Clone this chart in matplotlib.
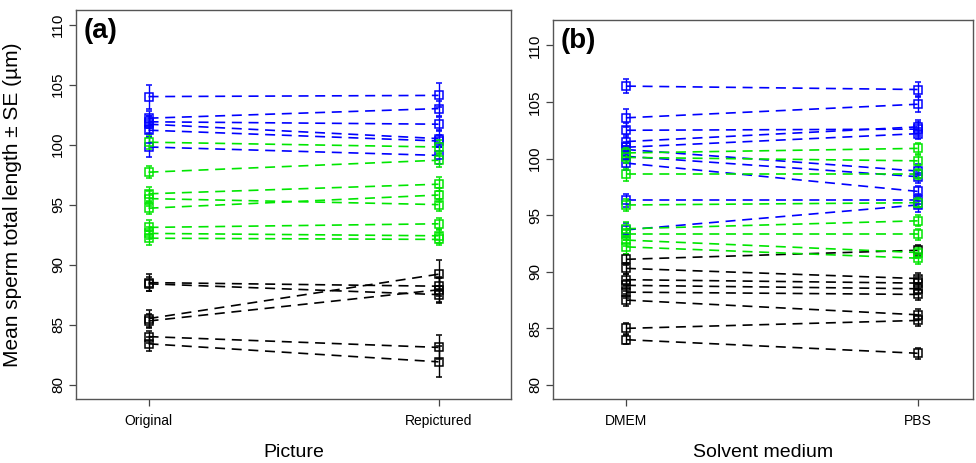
import matplotlib
matplotlib.use("Agg")
import matplotlib.pyplot as plt

plt.rcParams['font.family'] = ['Liberation Sans', 'DejaVu Sans']

# panel (a): Original vs Repictured
a_ticks = ["Original", "Repictured"]
a_blue_orig = [104.0, 102.2, 101.9, 101.7, 101.2, 99.8]
a_blue_rep = [104.1, 103.0, 101.7, 100.5, 100.3, 99.1]
a_blue_se1 = [1.0, 0.6, 0.5, 0.7, 0.6, 0.8]
a_blue_se2 = [1.0, 0.6, 0.6, 0.7, 0.5, 0.7]
a_green_orig = [100.2, 97.7, 95.9, 95.5, 94.7, 93.1, 92.6, 92.2]
a_green_rep = [99.8, 98.7, 96.7, 95.0, 95.8, 93.4, 92.4, 92.1]
a_green_se1 = [0.6, 0.5, 0.6, 0.6, 0.5, 0.6, 0.5, 0.6]
a_green_se2 = [0.6, 0.6, 0.6, 0.5, 0.6, 0.5, 0.6, 0.5]
a_black_orig = [88.5, 88.4, 85.5, 85.3, 84.0, 83.4]
a_black_rep = [88.2, 87.5, 89.2, 87.9, 83.1, 81.9]
a_black_se1 = [0.7, 0.6, 0.7, 0.6, 0.5, 0.6]
a_black_se2 = [0.8, 0.7, 1.2, 1.0, 1.0, 1.3]

# panel (b): DMEM vs PBS
b_ticks = ["DMEM", "PBS"]
b_blue_orig = [106.4, 103.6, 102.5, 101.5, 101.0, 100.8, 100.2, 99.6, 96.3, 93.7]
b_blue_rep = [106.1, 104.8, 102.6, 102.8, 102.2, 98.9, 98.4, 97.1, 96.3, 95.9]
b_blue_se1 = [0.6, 0.8, 0.6, 0.6, 0.5, 0.6, 0.6, 0.6, 0.6, 0.6]
b_blue_se2 = [0.7, 0.7, 0.6, 0.6, 0.5, 0.6, 0.6, 0.5, 0.6, 0.6]
b_green_orig = [100.5, 100.1, 98.6, 95.9, 93.8, 93.3, 92.8, 92.2]
b_green_rep = [100.9, 99.8, 98.6, 96.1, 94.5, 93.3, 91.7, 91.2]
b_green_se1 = [0.5, 0.5, 0.6, 0.5, 0.6, 0.5, 0.5, 0.6]
b_green_se2 = [0.5, 0.5, 0.5, 0.5, 0.5, 0.5, 0.5, 0.5]
b_black_orig = [91.1, 90.3, 89.3, 88.8, 88.2, 87.5, 85.0, 84.0]
b_black_rep = [91.9, 89.4, 89.0, 88.5, 88.0, 86.2, 85.7, 82.8]
b_black_se1 = [0.5, 0.5, 0.5, 0.5, 0.5, 0.5, 0.5, 0.4]
b_black_se2 = [0.5, 0.5, 0.5, 0.5, 0.5, 0.5, 0.5, 0.5]

BLUE = '#0000ff'
GREEN = '#00e600'
BLACK = '#000000'


def draw_group(ax, orig, rep, se1, se2, color):
    for o, r, s1, s2 in zip(orig, rep, se1, se2):
        ax.plot([1, 2], [o, r], color=color, lw=1.2, linestyle=(0, (6, 4)), zorder=2)
        ax.errorbar([1, 2], [o, r], yerr=[s1, s2], fmt='s', mfc='none', mec=color,
                    ms=6, mew=1.1, ecolor=color, elinewidth=1.0, capsize=2.5,
                    capthick=1.0, zorder=3)


def style_axes(ax, ticks, xlabel, tag, ylim):
    ax.set_xlim(0.75, 2.25 if tag == '(a)' else 2.19)
    ax.set_ylim(*ylim)
    ax.set_xticks([1, 2])
    ax.set_xticklabels(ticks, fontsize=10)
    ax.set_yticks([80, 85, 90, 95, 100, 105, 110])
    ax.set_yticklabels([str(v) for v in [80, 85, 90, 95, 100, 105, 110]],
                       fontsize=11, rotation=90, va='center')
    ax.tick_params(axis='both', length=5, width=0.9, color='#444444')
    ax.tick_params(axis='x', pad=6)
    ax.tick_params(axis='y', pad=3)
    for sp in ax.spines.values():
        sp.set_color('#555555')
        sp.set_linewidth(1.0)
    ax.set_xlabel(xlabel, fontsize=14, labelpad=11)
    ax.text(0.018, 0.98, tag, transform=ax.transAxes, fontsize=20,
            fontweight='bold', va='top', ha='left')


fig = plt.figure(figsize=(9.76, 4.63), dpi=100)
ax1 = fig.add_axes([0.0779, 0.1382, 0.4457, 0.8398])
ax2 = fig.add_axes([0.5666, 0.1382, 0.4304, 0.8186])

draw_group(ax1, a_black_orig, a_black_rep, a_black_se1, a_black_se2, BLACK)
draw_group(ax1, a_blue_orig, a_blue_rep, a_blue_se1, a_blue_se2, BLUE)
draw_group(ax1, a_green_orig, a_green_rep, a_green_se1, a_green_se2, GREEN)
style_axes(ax1, a_ticks, 'Picture', '(a)', (78.8, 111.2))
ax1.set_ylabel('Mean sperm total length ± SE (µm)', fontsize=15)
ax1.yaxis.set_label_coords(-0.124, 0.5)

draw_group(ax2, b_black_orig, b_black_rep, b_black_se1, b_black_se2, BLACK)
draw_group(ax2, b_blue_orig, b_blue_rep, b_blue_se1, b_blue_se2, BLUE)
draw_group(ax2, b_green_orig, b_green_rep, b_green_se1, b_green_se2, GREEN)
style_axes(ax2, b_ticks, 'Solvent medium', '(b)', (78.76, 112.24))

fig.savefig('out.png', dpi=100)
